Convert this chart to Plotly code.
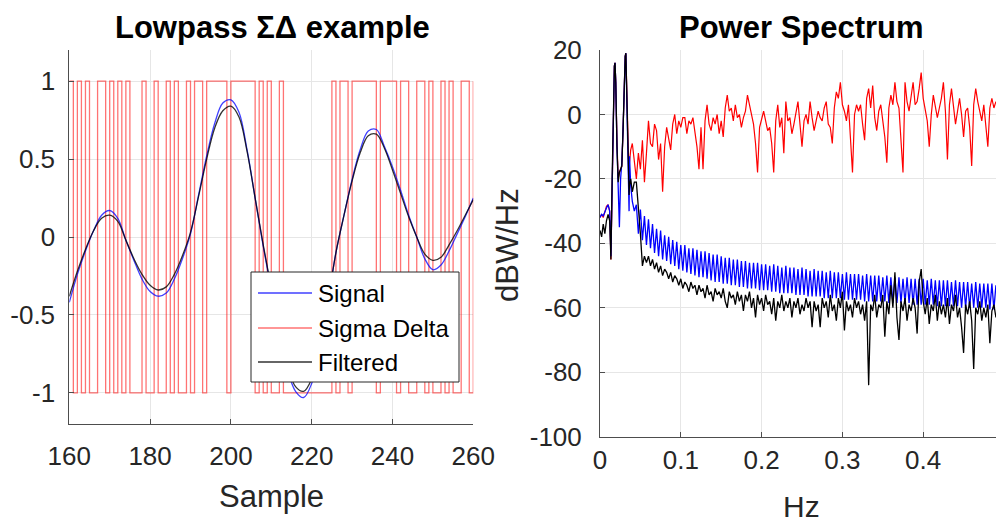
import plotly.graph_objects as go

W, H = 996, 524
FONT = "Liberation Sans, Arial, sans-serif"
AX_COLOR = "#4d4d4d"
GRID = "#e6e6e6"
TICK_FONT = dict(family=FONT, size=26, color="#262626")

# ---------------- time domain: samples 160..260 ----------------
samples = list(range(160, 261))
sigma_delta = [
    1, -1, 1, -1, 1, -1, -1, 1, 1, -1,      # 160-169
    1, -1, 1, -1, 1, -1, -1, -1, 1, -1,     # 170-179
    -1, 1, -1, -1, 1, -1, 1, -1, -1, 1,     # 180-189
    -1, 1, 1, -1, 1, 1, 1, 1, 1, -1,        # 190-199
    1, 1, 1, 1, 1, 1, -1, 1, -1, 1,         # 200-209
    -1, -1, 1, -1, -1, -1, -1, -1, -1, -1,  # 210-219
    -1, -1, -1, -1, -1, 1, -1, 1, 1, -1,    # 220-229
    1, 1, 1, 1, 1, 1, -1, 1, 1, 1,          # 230-239
    1, -1, 1, 1, -1, -1, 1, 1, -1, 1,       # 240-249
    -1, -1, 1, -1, 1, -1, -1, 1, 1, -1,     # 250-259
    1,                                      # 260
]

curve_t = list(range(160, 261, 2))
signal = [
    -0.42, -0.24, -0.09, 0.04, 0.14, 0.17, 0.12, -0.02, -0.15, -0.27,
    -0.35, -0.38, -0.36, -0.27, -0.14, 0.02, 0.27, 0.52, 0.73, 0.86,
    0.88, 0.80, 0.56, 0.25, -0.06, -0.34, -0.62, -0.85, -0.99, -1.03,
    -0.94, -0.73, -0.42, -0.10, 0.14, 0.37, 0.56, 0.68, 0.69, 0.58,
    0.45, 0.30, 0.14, 0.00, -0.14, -0.21, -0.18, -0.09, 0.02, 0.13,
    0.25,
]
filtered = [
    -0.38, -0.22, -0.08, 0.04, 0.12, 0.14, 0.10, -0.02, -0.14, -0.24,
    -0.31, -0.34, -0.32, -0.24, -0.12, 0.03, 0.26, 0.50, 0.70, 0.81,
    0.84, 0.77, 0.55, 0.25, -0.05, -0.33, -0.60, -0.82, -0.96, -0.99,
    -0.91, -0.71, -0.42, -0.10, 0.14, 0.36, 0.54, 0.65, 0.66, 0.57,
    0.43, 0.28, 0.13, 0.00, -0.11, -0.15, -0.13, -0.05, 0.04, 0.14,
    0.24,
]

# ---------------- power spectrum ----------------
# low band, where the two tones sit
f_low = [0.0, 0.002, 0.004, 0.006, 0.008, 0.010, 0.012, 0.0135, 0.015, 0.0165,
         0.0178, 0.0186, 0.0195, 0.021, 0.0225, 0.024, 0.0255, 0.027, 0.0285,
         0.030, 0.0312, 0.032, 0.033, 0.0345, 0.036, 0.0365, 0.038, 0.040, 0.0425]
red_low = [-32, -31, -32, -30, -28.5, -28, -30, -45, -20, 5,
           15, 16, 10, -8, -20, -18, -17, -16, -5,
           10, 18, 19, 8, -12, -20, -15, -11, -9, -15]
blue_low = [-32, -31, -31.5, -30, -29, -28, -30, -44, -22, 5,
            15, 16, 10, -10, -24, -35, -20, -15, -5,
            10, 18, 19, 8, -15, -30, -13, -22, -27, -30]
black_low = [-36, -38, -34, -37, -33, -31, -33, -45, -20, 5,
             15, 16, 10, -10, -21, -18, -17, -16, -5,
             10, 18, 19, 8, -14, -25, -22, -20, -24, -21]

# upper band on a regular bin grid
F_START, F_STEP, N_BINS = 0.045, 0.0025, 179
f_high = [round(F_START + F_STEP * i, 5) for i in range(N_BINS)]

red_high = [
    -20, -12, -17, -8, -21, -12, -2, -9, -10, -3,
    -5, -14, -9, -24, -10, -4, -8, -11, -3, 0,
    -6, -2, -4, -1, -1, -6, -2, -3, -1, -5,
    -10, -17, -4, -17, -2, 3, -3, -5, -1, -3,
    0, -6, -2, -7, 2, 6, 1, 2, -2, 3,
    -1, 0, -4, -1, 1, 6, 3, -1, -3, -9,
    -18, -4, -1, 1, -2, -5, -4, -9, -18, -2,
    3, -4, -1, -12, 4, -2, -1, -6, -3, 1,
    4, -3, -10, -2, 0, -3, 4, -1, -5, -2,
    1, -1, -2, 2, 4, -3, -4, -9, 2, 7,
    5, 10, 3, 1, -2, 3, -6, -18, 0, 3,
    1, 3, -3, -8, 5, 8, 2, 9, -1, -5,
    1, 3, -2, -7, -15, 2, 6, 3, 10, 4,
    2, -9, -18, 10, 4, 1, 5, 10, 3, 4,
    8, 13, 5, 1, -2, -10, 0, 6, 3, -1,
    2, 5, 10, 1, -14, 3, 8, 2, -3, 1,
    5, 0, -7, 1, 2, -4, -16, 3, 8, 4,
    1, -2, 3, -3, -10, 2, 5, 2, 4,
]

blue_peaks = [
    -28, -29.5, -31.5, -32.5, -34, -35.5, -36, -37.5, -38, -39,
    -39.5, -40.5, -40.5, -41.5, -41.5, -42, -42.5, -42.5, -43, -43.5,
    -43.5, -44, -44.5, -44.5, -45, -45, -45.5, -45.5, -46, -46,
    -46, -46.5, -46.5, -47, -46.5, -47, -47.5, -47, -47.5, -47.5,
    -48, -47.5, -48, -48.5, -48, -48.5, -48.5, -49, -48.5, -49,
    -49, -49.5, -49, -49.5, -49.5, -49.5, -50, -49.5, -50, -50,
    -50, -50.5, -50, -50.5, -50.5, -50.5, -51, -50.5, -51, -51,
    -51, -51, -51.5, -51, -51.5, -51.5, -51.5, -51.5, -52, -51.5,
    -52, -52, -52, -52.5, -52, -52.5, -52.5, -52.5, -52.5, -53,
]
blue_troughs = [
    -37, -39, -40.5, -41.5, -43, -44, -45, -45.5, -46.5, -47,
    -48, -48.5, -49, -49.5, -50, -50.5, -50.5, -51, -51.5, -52,
    -52, -52.5, -52.5, -53, -53, -53.5, -53.5, -54, -54, -54,
    -54.5, -54.5, -54.5, -55, -55, -55.5, -55.5, -55.5, -55.5, -56,
    -56, -56, -56.5, -56.5, -56.5, -56.5, -57, -57, -57, -57,
    -57, -57.5, -57.5, -57.5, -57.5, -57.5, -58, -58, -58, -58,
    -58, -58, -58.5, -58.5, -58.5, -58.5, -58.5, -58.5, -59, -59,
    -59, -59, -59, -59, -59.5, -59.5, -59.5, -59.5, -59.5, -59.5,
    -60, -60, -60, -60, -60, -60, -60, -60.5, -60.5,
]
blue_high = []
for k, p in enumerate(blue_peaks):
    blue_high.append(p)
    if k < len(blue_troughs):
        blue_high.append(blue_troughs[k])

black_high = [
    -21, -28, -37, -47, -44, -46, -44, -47, -45, -48,
    -46, -49, -47, -50, -48, -49, -51, -49, -52, -50,
    -51, -53, -51, -54, -52, -53, -55, -52, -54, -53,
    -56, -53, -55, -54, -57, -53, -56, -55, -58, -54,
    -56, -55, -57, -54, -58, -60, -55, -57, -56, -59,
    -55, -58, -56, -61, -56, -58, -55, -60, -57, -63,
    -56, -59, -57, -61, -56, -59, -58, -62, -57, -64,
    -58, -60, -56, -61, -58, -60, -57, -63, -58, -60,
    -57, -62, -59, -61, -57, -60, -58, -66, -58, -61,
    -59, -66, -57, -60, -58, -63, -56, -61, -59, -64,
    -57, -60, -55, -67, -58, -61, -59, -63, -57, -60,
    -58, -62, -59, -64, -58, -84, -59, -61, -56, -63,
    -59, -60, -56, -69, -58, -62, -53, -60, -49, -63,
    -70, -58, -61, -57, -64, -59, -61, -57, -60, -68,
    -52, -48, -58, -62, -57, -65, -59, -61, -56, -64,
    -58, -62, -59, -63, -57, -65, -59, -61, -56, -63,
    -60, -66, -74, -59, -62, -58, -64, -79, -60, -62,
    -58, -64, -60, -63, -59, -71, -61, -59, -63,
]

freq = f_low + f_high
red_spec = red_low + red_high
blue_spec = blue_low + blue_high
black_spec = black_low + black_high

fig = go.Figure()

# left panel
fig.add_trace(go.Scatter(x=samples, y=sigma_delta, mode="lines", line_shape="hv",
                         line=dict(color="rgba(255,0,0,0.55)", width=1.3),
                         name="Sigma Delta", showlegend=False, xaxis="x", yaxis="y"))
fig.add_trace(go.Scatter(x=curve_t, y=signal, mode="lines", line_shape="spline",
                         line=dict(color="rgba(0,0,255,0.75)", width=1.3),
                         name="Signal", showlegend=False, xaxis="x", yaxis="y"))
fig.add_trace(go.Scatter(x=curve_t, y=filtered, mode="lines", line_shape="spline",
                         line=dict(color="rgba(0,0,0,0.8)", width=1.3),
                         name="Filtered", showlegend=False, xaxis="x", yaxis="y"))

# right panel
fig.add_trace(go.Scatter(x=freq, y=red_spec, mode="lines",
                         line=dict(color="#ff0000", width=1.2),
                         name="Sigma Delta", showlegend=False, xaxis="x2", yaxis="y2"))
fig.add_trace(go.Scatter(x=freq, y=blue_spec, mode="lines",
                         line=dict(color="#0000ff", width=1.3),
                         name="Signal", showlegend=False, xaxis="x2", yaxis="y2"))
fig.add_trace(go.Scatter(x=freq, y=black_spec, mode="lines",
                         line=dict(color="#000000", width=1.3),
                         name="Filtered", showlegend=False, xaxis="x2", yaxis="y2"))


def px(x):
    return x / W


def py(y):
    return 1 - y / H


axis_common = dict(showline=True, linecolor=AX_COLOR, linewidth=1, mirror=False,
                   ticks="inside", ticklen=5, tickcolor=AX_COLOR, tickwidth=1,
                   showgrid=True, gridcolor=GRID, gridwidth=1, zeroline=False,
                   automargin=False, tickfont=TICK_FONT)

left_y_vals = [-1, -0.5, 0, 0.5, 1]
left_y_text = ["-1", "-0.5", "0", "0.5", "1"]
left_x_vals = [160, 180, 200, 220, 240, 260]
right_x_vals = [0, 0.1, 0.2, 0.3, 0.4]
right_x_text = ["0", "0.1", "0.2", "0.3", "0.4"]
right_y_vals = [20, 0, -20, -40, -60, -80, -100]
right_y_text = ["20", "0", "-20", "-40", "-60", "-80", "-100"]

fig.update_layout(
    width=W, height=H,
    margin=dict(l=0, r=0, t=0, b=0),
    paper_bgcolor="white", plot_bgcolor="white",
    showlegend=False,
    xaxis=dict(domain=[px(69.3), px(473.3)], range=[160, 260],
               tickvals=left_x_vals, ticktext=[str(v) for v in left_x_vals],
               ticklabelstandoff=9, anchor="y", **axis_common),
    yaxis=dict(domain=[py(424), py(50)], range=[-1.2, 1.2],
               tickvals=left_y_vals, ticktext=left_y_text,
               ticklabelstandoff=8, anchor="x", **axis_common),
    xaxis2=dict(domain=[px(600), 1.0], range=[0, 0.4901],
                tickvals=right_x_vals, ticktext=right_x_text,
                ticklabelstandoff=0, anchor="y2", **axis_common),
    yaxis2=dict(domain=[py(436.7), py(50)], range=[-100, 20],
                tickvals=right_y_vals, ticktext=right_y_text,
                ticklabelstandoff=12, anchor="x2", **axis_common),
)

# titles and axis labels
texts = [
    ("<b>Lowpass ΣΔ example</b>", 272, 27, 31, 0, "#000000"),
    ("<b>Power Spectrum</b>", 801, 27, 31, 0, "#000000"),
    ("Sample", 271, 496, 31, 0, "#262626"),
    ("Hz", 801, 506, 30, 0, "#262626"),
    ("dBW/Hz", 507, 245, 31, -90, "#262626"),
]
for txt, x, y, size, ang, col in texts:
    fig.add_annotation(x=px(x), y=py(y), xref="paper", yref="paper", text=txt,
                       showarrow=False, xanchor="center", yanchor="middle",
                       textangle=ang, font=dict(family=FONT, size=size, color=col))

# legend box drawn inside the left panel
fig.add_shape(type="rect", xref="paper", yref="paper",
              x0=px(251), x1=px(459), y0=py(382), y1=py(272),
              fillcolor="white", line=dict(color="#262626", width=1), layer="above")
legend_items = [
    ("Signal", "rgba(0,0,255,0.75)", 293),
    ("Sigma Delta", "rgba(255,0,0,0.55)", 328),
    ("Filtered", "rgba(0,0,0,0.8)", 362),
]
for label, col, y in legend_items:
    fig.add_shape(type="line", xref="paper", yref="paper",
                  x0=px(258), x1=px(312), y0=py(y), y1=py(y),
                  line=dict(color=col, width=1.5), layer="above")
    fig.add_annotation(x=px(316), y=py(y), xref="paper", yref="paper", text=label,
                       showarrow=False, xanchor="left", yanchor="middle",
                       font=dict(family=FONT, size=24, color="#000000"))

fig.write_html("out.html")
